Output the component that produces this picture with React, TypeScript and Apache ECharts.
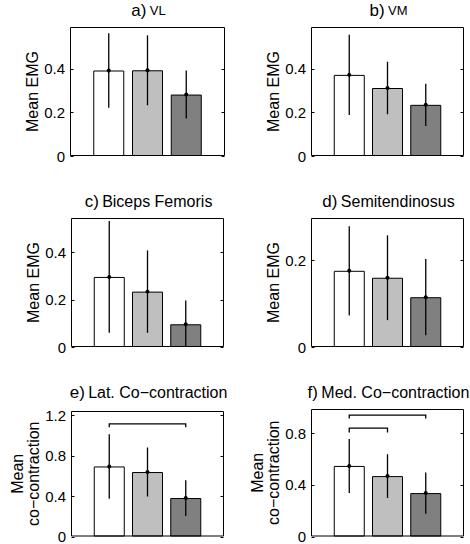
import React, { useEffect, useRef } from 'react';
import * as echarts from 'echarts';

// ---- data ----
const conditions = [1, 2, 3];
const titlePrefixes = ['a)', 'b)', 'c)', 'd)', 'e)', 'f)'];
const titleNames = ['VL', 'VM', 'Biceps Femoris', 'Semitendinosus', 'Lat. Co−contraction', 'Med. Co−contraction'];
const yNames = ['Mean EMG', 'Mean EMG', 'Mean EMG', 'Mean EMG', 'Mean\nco−contraction', 'Mean\nco−contraction'];

const meansVL = [0.391, 0.392, 0.281];
const sdVL = [0.17, 0.16, 0.11];
const meansVM = [0.371, 0.311, 0.234];
const sdVM = [0.183, 0.12, 0.097];
const meansBF = [0.296, 0.234, 0.096];
const sdBF = [0.236, 0.174, 0.1];
const meansST = [0.176, 0.16, 0.115];
const sdST = [0.103, 0.098, 0.088];
const meansLat = [0.692, 0.637, 0.38];
const sdLat = [0.318, 0.242, 0.177];
const meansMed = [0.548, 0.469, 0.337];
const sdMed = [0.21, 0.17, 0.16];

const yMaxes = [0.59, 0.59, 0.545, 0.298, 1.24, 0.99];
const yIntervals = [0.2, 0.2, 0.2, 0.2, 0.4, 0.4];
const ticksEMG = [0, 0.2, 0.4];
const ticksST = [0, 0.2];
const ticksLat = [0, 0.4, 0.8, 1.2];
const ticksMed = [0, 0.4, 0.8];

// brackets: [fromCondition, toCondition, barLevel, endLevel]
const bracketsVL: number[][] = [];
const bracketsVM: number[][] = [];
const bracketsBF: number[][] = [];
const bracketsST: number[][] = [];
const bracketsLat = [[1, 3, 1.113, 1.08]];
const bracketsMed = [[1, 3, 0.942, 0.917], [1, 2, 0.842, 0.808]];

const barColors = ['#ffffff', '#bfbfbf', '#808080'];

const panelMeans = [meansVL, meansVM, meansBF, meansST, meansLat, meansMed];
const panelSd = [sdVL, sdVM, sdBF, sdST, sdLat, sdMed];
const panelBrackets = [bracketsVL, bracketsVM, bracketsBF, bracketsST, bracketsLat, bracketsMed];
const panelTicks = [ticksEMG, ticksEMG, ticksEMG, ticksST, ticksLat, ticksMed];

// ---- layout ----
const grids = [
  { left: 70, top: 27, width: 155, height: 129 },
  { left: 311, top: 27, width: 153, height: 129 },
  { left: 71, top: 218, width: 153, height: 129 },
  { left: 311, top: 218, width: 153, height: 129 },
  { left: 71, top: 411, width: 153, height: 126 },
  { left: 311, top: 409, width: 153, height: 128 },
];
const titleY = [10, 10, 201, 201, 392, 392];

const FONT = '"Liberation Sans", Arial, Helvetica, sans-serif';

function fmtTick(v: number, interval: number): string {
  const k = v / interval;
  if (Math.abs(k - Math.round(k)) > 1e-6) return '';
  if (Math.abs(v) < 1e-9) return '0';
  return (Math.round(v * 10) / 10).toString();
}

export default function App() {
  const ref = useRef<HTMLDivElement>(null);
  useEffect(() => {
    if (!ref.current) return;
    const chart = echarts.init(ref.current, undefined, { renderer: 'svg' });

    const xAxis: any[] = [];
    const yAxis: any[] = [];
    const series: any[] = [];
    const graphic: any[] = [];

    grids.forEach((g, i) => {
      xAxis.push({
        type: 'value',
        gridIndex: i,
        min: 0,
        max: 4,
        axisLine: { show: false },
        axisTick: { show: false },
        axisLabel: { show: false },
        splitLine: { show: false },
      });
      yAxis.push({
        type: 'value',
        gridIndex: i,
        min: 0,
        max: yMaxes[i],
        interval: yIntervals[i],
        splitLine: { show: false },
        axisLine: { show: false },
        axisTick: { show: false },
        position: 'left',
        name: yNames[i],
        nameLocation: 'middle',
        nameRotate: 90,
        nameGap: i >= 4 ? 22 : 29,
        nameTextStyle: { color: '#000', fontSize: 16, fontFamily: FONT, lineHeight: 16 },
        axisLabel: {
          color: '#000',
          fontSize: 15,
          fontFamily: FONT,
          margin: 5,
          formatter: (v: number) => fmtTick(v, yIntervals[i]),
        },
      });

      series.push({
        type: 'bar',
        xAxisIndex: i,
        yAxisIndex: i,
        barWidth: 31,
        z: 2,
        data: panelMeans[i].map((m, j) => ({
          value: [conditions[j], m],
          itemStyle: { color: barColors[j], borderColor: '#000', borderWidth: 1 },
        })),
      });

      // error bars
      series.push({
        type: 'custom',
        xAxisIndex: i,
        yAxisIndex: i,
        clip: true,
        z: 10,
        data: panelMeans[i].map((m, j) => [conditions[j], m, panelSd[i][j]]),
        renderItem: (params: any, api: any) => {
          const x = api.value(0);
          const m = api.value(1);
          const s = api.value(2);
          const top = api.coord([x, m + s]);
          const bot = api.coord([x, m - s]);
          const mid = api.coord([x, m]);
          return {
            type: 'group',
            children: [
              {
                type: 'line',
                shape: { x1: top[0], y1: top[1], x2: bot[0], y2: bot[1] },
                style: { stroke: '#000', lineWidth: 1.3 },
              },
              {
                type: 'circle',
                shape: { cx: mid[0], cy: mid[1], r: 2 },
                style: { fill: '#000' },
              },
            ],
          };
        },
      });

      // significance brackets
      if (panelBrackets[i].length) {
        series.push({
          type: 'custom',
          xAxisIndex: i,
          yAxisIndex: i,
          z: 10,
          data: panelBrackets[i],
          renderItem: (params: any, api: any) => {
            const a = api.value(0);
            const b = api.value(1);
            const lvl = api.value(2);
            const end = api.value(3);
            const p1 = api.coord([a, end]);
            const p2 = api.coord([a, lvl]);
            const p3 = api.coord([b, lvl]);
            const p4 = api.coord([b, end]);
            return {
              type: 'polyline',
              shape: { points: [p1, p2, p3, p4] },
              style: { stroke: '#000', lineWidth: 1.3, fill: 'none' },
            };
          },
        });
      }

      // axes box and inward ticks (left and right)
      series.push({
        type: 'custom',
        xAxisIndex: i,
        yAxisIndex: i,
        z: 20,
        clip: false,
        silent: true,
        data: panelTicks[i].map((t) => [0, t]),
        renderItem: (params: any, api: any) => {
          const cs = params.coordSys;
          const t = api.value(1);
          const y = Math.round(api.coord([0, t])[1]) + 0.5;
          const xl = cs.x + 0.5;
          const xr = cs.x + cs.width - 0.5;
          const children: any[] = [
            { type: 'line', shape: { x1: xl, y1: y, x2: xl + 3, y2: y }, style: { stroke: '#000', lineWidth: 1 } },
            { type: 'line', shape: { x1: xr - 3, y1: y, x2: xr, y2: y }, style: { stroke: '#000', lineWidth: 1 } },
          ];
          if (params.dataIndex === 0) {
            children.push({
              type: 'rect',
              shape: { x: cs.x + 0.5, y: cs.y + 0.5, width: cs.width - 1, height: cs.height - 1 },
              style: { fill: 'none', stroke: '#000', lineWidth: 1 },
            });
          }
          return { type: 'group', children };
        },
      });

      const smallName = titleNames[i].length <= 2;
      graphic.push({
        type: 'text',
        x: g.left + g.width / 2 + 1,
        y: titleY[i],
        style: {
          text: '{p|' + titlePrefixes[i] + '} {t|' + titleNames[i] + '}',
          align: 'center',
          verticalAlign: 'middle',
          fill: '#000',
          rich: {
            p: { fontSize: 17, fontFamily: FONT, fill: '#000' },
            t: { fontSize: smallName ? 13 : 16, fontFamily: FONT, fill: '#000' },
          },
        },
      });
    });

    chart.setOption({
      animation: false,
      backgroundColor: '#fff',
      grid: grids.map((g) => ({ ...g, containLabel: false })),
      xAxis,
      yAxis,
      series,
      graphic,
    });
    return () => chart.dispose();
  }, []);
  return (
    <div
      ref={ref}
      style={{ position: 'fixed', left: 0, top: 0, width: 470, height: 544, background: '#fff' }}
    />
  );
}
